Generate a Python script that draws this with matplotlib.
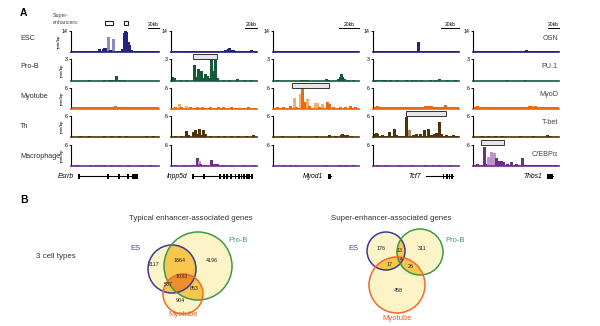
import numpy as np
import matplotlib
matplotlib.use("Agg")
import matplotlib.pyplot as plt
from matplotlib.patches import Circle, Rectangle

plt.rcParams['font.family'] = ['Liberation Sans', 'DejaVu Sans']

W, H = 600, 326

# ---------------- data ----------------
cells = ['ESC', 'Pro-B', 'Myotube', 'Th', 'Macrophage']
factors = ['OSN', 'PU.1', 'MyoD', 'T-bet', 'C/EBPα']
ymax = [14, 3, 6, 6, 6]
genes = ['Esrrb', 'Inpp5d', 'Myod1', 'Tcf7', 'Thbs1']

# peaks per track: (position along locus, rpm/bp, light shade)
esrrb = [
    [(0.10, 0.3, 0), (0.19, 0.9, 0), (0.25, 0.3, 0), (0.32, 1.8, 0), (0.36, 2.2, 0),
     (0.38, 3.0, 0), (0.40, 2.5, 0), (0.42, 10.3, 1), (0.44, 1.5, 0), (0.48, 8.6, 1),
     (0.53, 0.8, 0), (0.58, 2.0, 0), (0.60, 12.5, 0), (0.615, 14.0, 0), (0.63, 13.5, 0),
     (0.645, 7.0, 0), (0.66, 4.5, 0), (0.68, 1.5, 0), (0.72, 0.8, 0), (0.78, 0.9, 0),
     (0.85, 0.4, 0), (0.92, 0.3, 0)],
    [(0.20, 0.08, 0), (0.38, 0.12, 0), (0.43, 0.15, 0), (0.47, 0.12, 0), (0.515, 0.75, 0),
     (0.56, 0.12, 0), (0.60, 0.1, 0)],
    [(0.12, 0.5, 0), (0.20, 0.6, 0), (0.28, 0.55, 0), (0.35, 0.6, 0), (0.42, 0.55, 0),
     (0.47, 0.6, 0), (0.50, 1.0, 0), (0.55, 0.7, 0), (0.60, 0.6, 0), (0.66, 0.5, 0),
     (0.72, 0.55, 0), (0.80, 0.6, 0), (0.88, 0.5, 0)],
    [(0.10, 0.3, 0), (0.20, 0.25, 0), (0.38, 0.25, 0), (0.45, 0.35, 0), (0.55, 0.3, 0),
     (0.62, 0.25, 0), (0.85, 0.35, 0), (0.93, 0.3, 0)],
    [(0.05, 0.3, 0), (0.08, 0.25, 0), (0.22, 0.25, 0), (0.28, 0.25, 0), (0.33, 0.25, 0),
     (0.38, 0.3, 0), (0.45, 0.25, 0), (0.55, 0.25, 0), (0.65, 0.25, 0), (0.80, 0.25, 0),
     (0.90, 0.25, 0)],
]
inpp5d = [
    [(0.10, 0.3, 0), (0.20, 0.3, 0), (0.30, 0.3, 0), (0.40, 0.3, 0), (0.50, 0.4, 0),
     (0.58, 0.5, 0), (0.63, 1.3, 0), (0.66, 1.8, 0), (0.68, 2.8, 0), (0.70, 1.6, 0),
     (0.72, 1.2, 0), (0.76, 0.5, 0), (0.82, 0.4, 0), (0.88, 0.5, 0), (0.93, 1.4, 0),
     (0.97, 0.5, 0)],
    [(0.01, 0.6, 0), (0.03, 0.35, 0), (0.10, 0.15, 0), (0.17, 0.15, 0), (0.27, 2.2, 0),
     (0.29, 0.6, 0), (0.31, 1.7, 0), (0.33, 0.5, 0), (0.35, 1.4, 0), (0.37, 0.4, 0),
     (0.39, 1.0, 0), (0.42, 0.7, 0), (0.45, 0.4, 0), (0.47, 2.9, 0), (0.49, 1.3, 0),
     (0.515, 3.0, 0), (0.54, 0.4, 0), (0.60, 0.15, 0), (0.68, 0.15, 0), (0.77, 0.3, 0),
     (0.85, 0.15, 0), (0.93, 0.2, 0)],
    [(0.05, 0.5, 0), (0.09, 1.3, 1), (0.12, 0.6, 0), (0.18, 1.0, 1), (0.22, 0.5, 0),
     (0.30, 0.5, 0), (0.36, 0.7, 0), (0.45, 0.5, 0), (0.55, 0.5, 0), (0.60, 0.5, 0),
     (0.70, 0.6, 0), (0.80, 0.4, 0), (0.90, 0.5, 0)],
    [(0.05, 0.25, 0), (0.12, 0.25, 0), (0.18, 1.6, 0), (0.20, 0.6, 0), (0.26, 1.5, 0),
     (0.28, 1.9, 0), (0.30, 0.8, 0), (0.32, 2.3, 0), (0.34, 0.6, 0), (0.37, 2.0, 0),
     (0.39, 1.0, 0), (0.45, 0.35, 0), (0.55, 0.35, 0), (0.62, 0.35, 0), (0.70, 0.35, 0),
     (0.78, 0.35, 0), (0.87, 0.35, 0), (0.95, 0.45, 0)],
    [(0.05, 0.25, 0), (0.15, 0.25, 0), (0.25, 0.25, 0), (0.30, 2.3, 0), (0.32, 1.4, 1),
     (0.34, 0.6, 0), (0.40, 0.4, 0), (0.47, 1.6, 0), (0.50, 0.5, 0), (0.53, 0.7, 0),
     (0.60, 0.3, 0), (0.70, 0.25, 0), (0.85, 0.25, 0), (0.95, 0.25, 0)],
]
myod1 = [
    [(0.02, 0.3, 0), (0.15, 0.2, 0), (0.30, 0.2, 0), (0.45, 0.2, 0), (0.60, 0.2, 0),
     (0.75, 0.2, 0), (0.83, 0.7, 0), (0.87, 0.4, 0), (0.95, 0.2, 0)],
    [(0.05, 0.1, 0), (0.33, 0.12, 0), (0.36, 0.15, 0), (0.40, 0.12, 0), (0.62, 0.3, 0),
     (0.64, 0.2, 0), (0.75, 0.3, 0), (0.78, 0.6, 0), (0.79, 0.9, 0), (0.80, 0.5, 0),
     (0.82, 0.3, 0), (0.87, 0.15, 0), (0.93, 0.15, 0)],
    [(0.05, 0.5, 0), (0.12, 0.5, 0), (0.20, 0.8, 0), (0.24, 3.2, 1), (0.27, 0.7, 0),
     (0.31, 4.3, 1), (0.335, 5.6, 0), (0.35, 2.0, 0), (0.37, 2.0, 0), (0.40, 2.8, 1),
     (0.42, 0.8, 0), (0.49, 1.6, 1), (0.51, 1.6, 1), (0.53, 0.7, 0), (0.57, 1.3, 1),
     (0.63, 2.0, 0), (0.65, 1.5, 0), (0.70, 0.5, 0), (0.78, 0.5, 0), (0.84, 0.5, 0),
     (0.90, 0.9, 0), (0.95, 0.5, 0)],
    [(0.10, 0.2, 0), (0.30, 0.2, 0), (0.50, 0.2, 0), (0.65, 0.6, 0), (0.72, 0.25, 0),
     (0.79, 0.7, 0), (0.80, 0.9, 0), (0.82, 0.6, 0), (0.86, 0.5, 0), (0.91, 0.4, 0)],
    [(0.12, 0.25, 0), (0.20, 0.25, 0), (0.25, 0.2, 0), (0.60, 0.25, 0), (0.77, 0.3, 0),
     (0.79, 0.4, 0), (0.85, 0.25, 0), (0.93, 0.25, 0)],
]
tcf7 = [
    [(0.05, 0.3, 0), (0.14, 0.9, 0), (0.20, 0.3, 0), (0.27, 0.3, 0), (0.35, 0.3, 0),
     (0.44, 0.3, 0), (0.52, 6.8, 0), (0.56, 0.4, 0), (0.60, 0.4, 0), (0.66, 0.4, 0),
     (0.72, 0.4, 0), (0.78, 0.5, 0), (0.84, 0.4, 0), (0.93, 0.3, 0)],
    [(0.02, 0.15, 0), (0.06, 0.2, 0), (0.10, 0.2, 0), (0.14, 0.15, 0), (0.20, 0.2, 0),
     (0.28, 0.15, 0), (0.38, 0.2, 0), (0.45, 0.2, 0), (0.50, 0.15, 0), (0.56, 0.2, 0),
     (0.66, 0.2, 0), (0.72, 0.15, 0), (0.77, 0.3, 0), (0.86, 0.15, 0), (0.95, 0.15, 0)],
    [(0.05, 0.8, 0), (0.10, 0.6, 0), (0.15, 0.7, 0), (0.20, 0.5, 0), (0.30, 0.5, 0),
     (0.40, 0.6, 0), (0.50, 0.5, 0), (0.55, 0.7, 0), (0.60, 0.8, 0), (0.64, 0.9, 0),
     (0.68, 0.8, 0), (0.72, 0.7, 0), (0.78, 0.6, 0), (0.84, 1.1, 0), (0.90, 0.6, 0),
     (0.95, 0.5, 0)],
    [(0.01, 1.0, 0), (0.03, 1.1, 0), (0.05, 0.9, 0), (0.10, 0.5, 0), (0.19, 1.3, 0),
     (0.24, 2.4, 0), (0.27, 0.5, 0), (0.30, 0.4, 0), (0.38, 5.8, 0), (0.40, 0.8, 0),
     (0.42, 2.0, 1), (0.46, 0.5, 0), (0.50, 0.8, 0), (0.55, 1.0, 0), (0.59, 2.0, 0),
     (0.64, 2.4, 0), (0.67, 0.6, 0), (0.71, 0.8, 0), (0.73, 1.2, 0), (0.77, 4.2, 0),
     (0.79, 1.0, 0), (0.85, 0.5, 0), (0.93, 0.5, 0)],
    [(0.05, 0.2, 0), (0.15, 0.2, 0), (0.30, 0.25, 0), (0.45, 0.2, 0), (0.60, 0.2, 0),
     (0.70, 0.25, 0), (0.77, 0.3, 0), (0.90, 0.2, 0)],
]
thbs1 = [
    [(0.05, 0.2, 0), (0.30, 0.2, 0), (0.62, 1.1, 0), (0.63, 0.5, 0), (0.86, 0.3, 0)],
    [(0.40, 0.08, 0), (0.60, 0.08, 0)],
    [(0.05, 0.8, 0), (0.10, 0.6, 0), (0.20, 0.5, 0), (0.30, 0.5, 0), (0.40, 0.5, 0),
     (0.45, 0.6, 0), (0.60, 0.7, 0), (0.65, 0.8, 0), (0.68, 0.9, 0), (0.72, 0.8, 0),
     (0.76, 0.7, 0), (0.82, 0.5, 0), (0.90, 0.6, 0)],
    [(0.10, 0.25, 0), (0.18, 0.3, 0), (0.26, 0.25, 0), (0.34, 0.3, 0), (0.55, 0.2, 0),
     (0.70, 0.25, 0), (0.86, 0.5, 0), (0.90, 0.3, 0)],
    [(0.02, 0.4, 0), (0.05, 0.6, 0), (0.10, 0.4, 0), (0.13, 5.3, 0), (0.15, 0.5, 0),
     (0.18, 2.5, 1), (0.21, 3.9, 1), (0.24, 3.6, 1), (0.27, 2.4, 0), (0.30, 1.5, 0),
     (0.33, 1.5, 0), (0.35, 1.0, 0), (0.39, 0.5, 0), (0.44, 1.2, 0), (0.50, 0.7, 0),
     (0.57, 2.4, 0), (0.63, 0.4, 0), (0.75, 0.3, 0), (0.86, 0.3, 0)],
]
loci = [esrrb, inpp5d, myod1, tcf7, thbs1]

# low background signal per locus, one value per cell type (scaled to a 0-6 track)
floors = [
    [0.30, 0.05, 0.45, 0.10, 0.08],
    [0.25, 0.10, 0.40, 0.12, 0.08],
    [0.20, 0.08, 0.40, 0.10, 0.06],
    [0.20, 0.08, 0.50, 0.40, 0.06],
    [0.20, 0.08, 0.45, 0.10, 0.15],
]

# super-enhancer called per locus: (cell row, start, end)
super_enh = [None, (1, 0.256, 0.535), (2, 0.22, 0.65), (3, 0.38, 0.85), (4, 0.09, 0.36)]
esc_se_legend = [(0.386, 0.477), (0.60, 0.65)]

# gene models: span and exons along the locus
gene_span = [(0.09, 0.75), (0.256, 0.94), (0.64, 0.67), (0.62, 0.93), (0.86, 0.93)]
gene_exons = [
    [0.09, 0.42, 0.545, 0.65, 0.705, 0.73, 0.75],
    [0.26, 0.38, 0.57, 0.62, 0.65, 0.70, 0.75, 0.79, 0.82, 0.85, 0.88, 0.91, 0.94],
    [0.645, 0.655, 0.665],
    [0.82, 0.86, 0.89, 0.92],
    [0.87, 0.89, 0.91, 0.925],
]
scale_bar = [0.13, 0.14, 0.23, 0.21, 0.13]

# Venn counts
typical_counts = [2117, 1864, 4196, 1033, 537, 853, 904]
super_counts = [176, 13, 311, 4, 17, 26, 458]

# ---------------- layout ----------------
col_x = [(71, 159), (171, 257), (273, 359), (373, 459), (473, 559)]
row_top = [31, 59, 88, 116, 145]
row_base = [52, 81, 109, 137, 166]
row_label_y = [39, 67, 97, 127, 157]
factor_y = [39, 67, 95, 123, 154]
dark = ['#25237e', '#16583a', '#ea6a12', '#4d320c', '#6e2c8c']
light = ['#8c8ac4', '#6ea488', '#f2b070', '#a88c68', '#bc94cc']


def px_axes(x0, y0, x1, y1):
    return fig.add_axes([x0 / W, 1 - y1 / H, (x1 - x0) / W, (y1 - y0) / H])


fig = plt.figure(figsize=(6, 3.26), dpi=100)
canvas = fig.add_axes([0, 0, 1, 1])
canvas.set_xlim(0, W)
canvas.set_ylim(H, 0)
canvas.axis('off')

canvas.text(20, 13, 'A', fontsize=7.5, fontweight='bold', va='center')
canvas.text(20, 200, 'B', fontsize=7.5, fontweight='bold', va='center')
canvas.text(53, 16, 'Super-', fontsize=3.8, color='#444', va='center')
canvas.text(53, 22.5, 'enhancers:', fontsize=3.8, color='#444', va='center')
for r in range(5):
    canvas.text(20, row_label_y[r], cells[r], fontsize=5.2, color='#333', va='center')
    canvas.text(558, factor_y[r], factors[r], fontsize=5.2, color='#444',
                va='center', ha='right')

for c in range(5):
    x0, x1 = col_x[c]
    for r in range(5):
        ax = px_axes(x0, row_top[r], x1, row_base[r])
        ax.set_xlim(0, 1)
        ax.set_ylim(0, ymax[r])
        ax.fill_between([0, 1], 0, floors[c][r] * ymax[r] / 6, color=dark[r], lw=0)
        pk = loci[c][r]
        pos = [p[0] for p in pk]
        hgt = [p[1] for p in pk]
        col = [light[r] if p[2] else dark[r] for p in pk]
        ax.vlines(pos, 0, hgt, colors=col, lw=0.9, antialiased=False)
        for s in ['top', 'right']:
            ax.spines[s].set_visible(False)
        ax.spines['left'].set_linewidth(0.8)
        ax.spines['bottom'].set_linewidth(1.2)
        ax.spines['bottom'].set_color(dark[r])
        ax.set_xticks([])
        ax.set_yticks([ymax[r]])
        ax.set_yticklabels([str(ymax[r])])
        ax.tick_params(axis='y', length=1.5, width=0.6, pad=0.8, labelsize=3.8)
        ax.patch.set_alpha(0)
        if c == 0:
            ax.set_ylabel('rpm/bp', fontsize=3.2, labelpad=0.5)
        tr = ax.get_xaxis_transform()
        if r == 0:
            # 20 kb scale bar
            ax.plot([1 - scale_bar[c], 1], [1.12, 1.12], color='k', lw=0.7,
                    transform=tr, clip_on=False)
            ax.text(1 - scale_bar[c] / 2, 1.32, '20kb', fontsize=3.6, ha='center',
                    va='center', transform=tr)
            if c == 0:
                for a, b in esc_se_legend:
                    ax.add_patch(Rectangle((a, 1.29), b - a, 0.2, transform=tr,
                                           fill=False, lw=0.8, ec='#222',
                                           clip_on=False))
        se = super_enh[c]
        if se is not None and se[0] == r:
            ax.add_patch(Rectangle((se[1], 1.02), se[2] - se[1], 0.22, transform=tr,
                                   fc='#e6e6e6', lw=0.7, ec='#333', clip_on=False))

    # gene model under the tracks
    gax = px_axes(x0, 171, x1, 181)
    gax.set_xlim(0, 1)
    gax.set_ylim(-1, 1)
    gax.axis('off')
    a, b = gene_span[c]
    gax.plot([a, b], [0, 0], color='k', lw=0.8)
    gax.bar(gene_exons[c], 1.0, bottom=-0.5, width=0.02, color='k', lw=0)
    gax.text(a - 0.06, 0, genes[c], fontsize=4.9, style='italic', ha='right',
             va='center')

# ---------------- Venn diagrams ----------------
fill_cols = [(1, 1, 1, 0), (0.992, 0.96, 0.78, 1), (0.976, 0.78, 0.30, 1),
             (0.94, 0.55, 0.18, 1)]
edge_cols = ['#3d3b8e', '#3c9a44', '#f06a2a']
label_cols = ['#4a4a92', '#3f9a78', '#e85a20']
set_names = ['ES', 'Pro-B', 'Myotube']


def venn(circles, counts, spots, names_xy, title_xy, title):
    xs = [cx - r for cx, cy, r in circles] + [cx + r for cx, cy, r in circles]
    ys = [cy - r for cx, cy, r in circles] + [cy + r for cx, cy, r in circles]
    gx = np.linspace(min(xs) - 1, max(xs) + 1, 500)
    gy = np.linspace(min(ys) - 1, max(ys) + 1, 500)
    X, Y = np.meshgrid(gx, gy)
    n = np.zeros(X.shape, dtype=int)
    for cx, cy, r in circles:
        n += ((X - cx) ** 2 + (Y - cy) ** 2 <= r * r).astype(int)
    img = np.array(fill_cols)[n]
    canvas.imshow(img, extent=(gx[0], gx[-1], gy[-1], gy[0]), origin='upper',
                  interpolation='bilinear', aspect='auto', zorder=1)
    for (cx, cy, r), ec in zip(circles, edge_cols):
        canvas.add_patch(Circle((cx, cy), r, fill=False, ec=ec, lw=1.1, zorder=2))
    for v, (x, y) in zip(counts, spots):
        canvas.text(x, y, str(v), fontsize=3.9 if v > 9 else 3.0, ha='center',
                    va='center', color='#222', zorder=3)
    for nm, (x, y), lc in zip(set_names, names_xy, label_cols):
        canvas.text(x, y, nm, fontsize=5.5, ha='center', va='center', color=lc,
                    zorder=3)
    canvas.text(title_xy[0], title_xy[1], title, fontsize=5.65, color='#333',
                va='center')


canvas.text(36, 256, '3 cell types', fontsize=5.7, color='#333', va='center')
venn([(172, 269, 24), (198, 266, 34), (183, 294, 20)], typical_counts,
     [(154, 265), (180, 260), (212, 260), (182, 277), (168, 285), (194, 288),
      (180, 300)],
     [(135, 248), (238, 240), (183, 315)], (129, 218),
     'Typical enhancer-associated genes')
venn([(386, 251, 19), (420, 252, 23), (397, 285, 28)], super_counts,
     [(381, 248), (400, 251), (422, 248), (401, 259), (390, 264), (411, 267),
      (398, 290)],
     [(353, 248), (455, 240), (397, 318)], (331, 218),
     'Super-enhancer-associated genes')
canvas.set_xlim(0, W)
canvas.set_ylim(H, 0)

fig.savefig('out.png', dpi=100)
